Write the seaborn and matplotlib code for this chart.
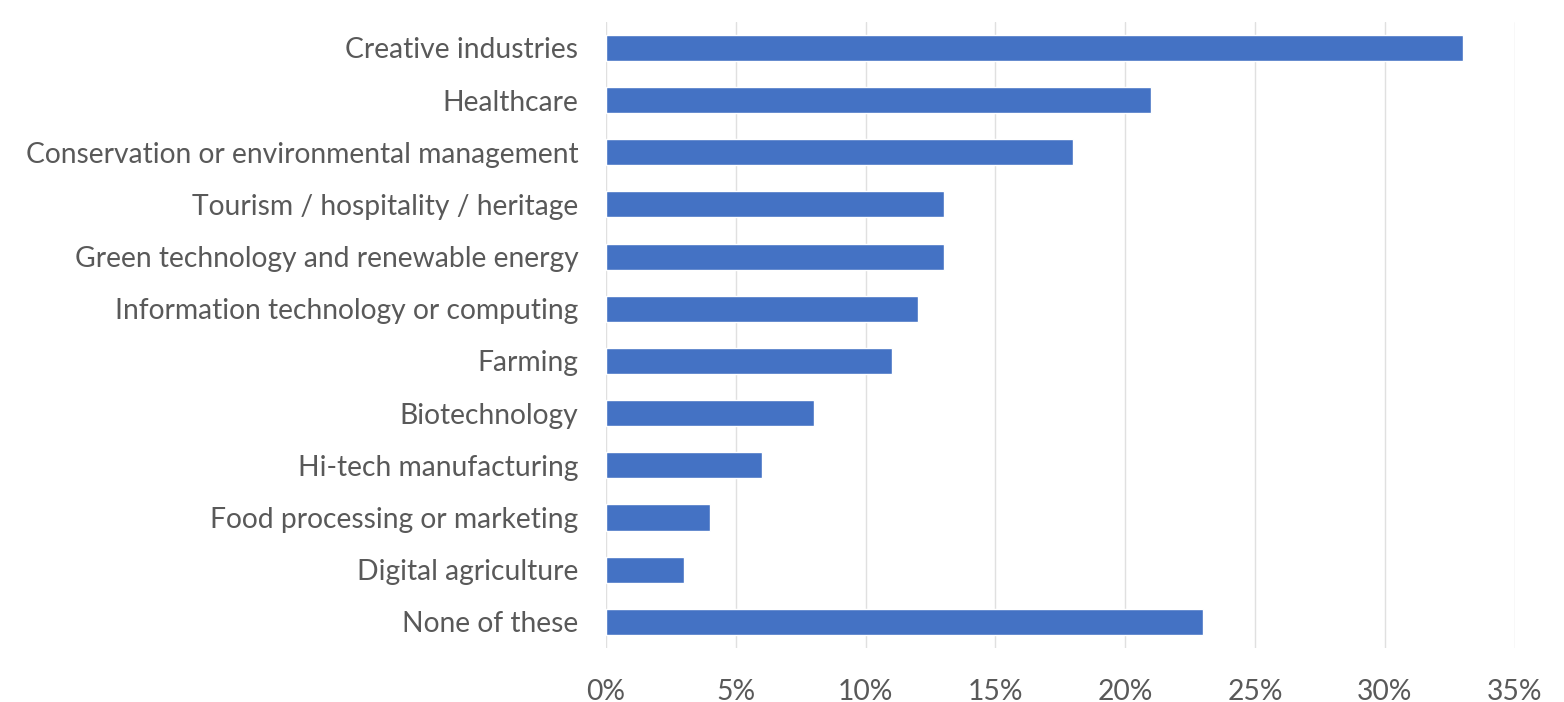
import matplotlib
matplotlib.use("Agg")
import matplotlib.pyplot as plt
import seaborn as sns
import pandas as pd
from matplotlib.ticker import PercentFormatter

sectors = [
    "Creative industries",
    "Healthcare",
    "Conservation or environmental management",
    "Tourism / hospitality / heritage",
    "Green technology and renewable energy",
    "Information technology or computing",
    "Farming",
    "Biotechnology",
    "Hi-tech manufacturing",
    "Food processing or marketing",
    "Digital agriculture",
    "None of these",
]
shares = [33, 21, 18, 13, 13, 12, 11, 8, 6, 4, 3, 23]

df = pd.DataFrame({"sector": sectors, "share": shares})

sns.set_theme(style="white")
plt.rcParams["font.family"] = ["Lato", "DejaVu Sans"]

fig = plt.figure(figsize=(15.64, 7.02), dpi=100)
ax = fig.add_axes([0.3875, 0.077, 0.581, 0.892])

sns.barplot(data=df, x="share", y="sector", color="#4472C4", width=0.5,
            saturation=1, ax=ax, zorder=3)

ax.set_xlim(0, 35)
ax.set_xticks(range(0, 36, 5))
ax.xaxis.set_major_formatter(PercentFormatter(decimals=0))
ax.grid(axis="x", color="#E0E0E0", linewidth=1.0, zorder=0)
ax.set_axisbelow(True)
for s in ax.spines.values():
    s.set_visible(False)
ax.set_xlabel("")
ax.set_ylabel("")
ax.tick_params(axis="both", length=0, labelsize=20.3, labelcolor="#595959")
ax.tick_params(axis="y", pad=20)
ax.tick_params(axis="x", pad=22)

fig.savefig("out.png", dpi=100)
